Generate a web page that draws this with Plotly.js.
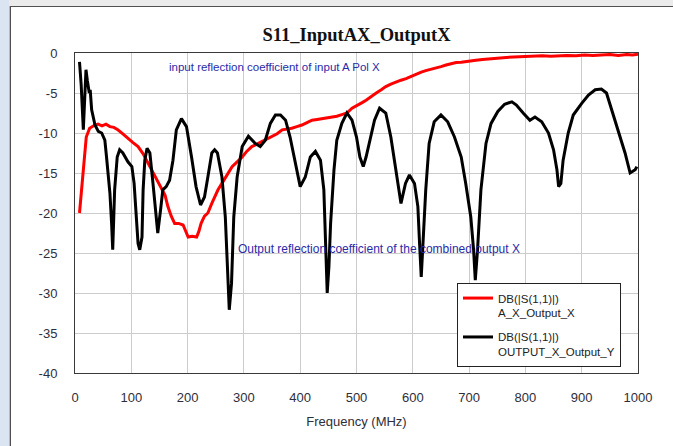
<!DOCTYPE html>
<html>
<head>
<meta charset="utf-8">
<script src="https://cdn.plot.ly/plotly-3.0.1.min.js"></script>
<style>
  html, body { margin: 0; padding: 0; background: #ffffff; }
  #wrap { position: relative; width: 673px; height: 446px; overflow: hidden; }
  .deco { position: absolute; }
  #chart { position: absolute; left: 0; top: 0; width: 673px; height: 446px; }
</style>
</head>
<body>
<div id="wrap">
  <div class="deco" style="left:0;top:0;width:673px;height:6px;background:#ebebeb;"></div>
  <div class="deco" style="left:0;top:0;width:9px;height:446px;background:#dbe5f1;"></div>
  <div class="deco" style="left:9px;top:6px;width:1px;height:440px;background:#b8b8b8;"></div>
  <div class="deco" style="left:10px;top:6px;width:663px;height:1px;background:#505050;"></div>
  <div class="deco" style="left:10px;top:6px;width:1px;height:440px;background:#505050;"></div>
  <div id="chart"></div>
</div>
<script>
// Frequency (MHz) and S11 (dB) for input A Pol X (red)
const freqA = [8,12,16,20,26,33,41,48,55,62,69,76,85,94,103,112,121,130,141,153,160,165,171,177,184,192,197,201,208,216,220,224,230,236,243,254,261,270,279,288,297,305,314,323,332,341,350,359,368,377,385,394,403,412,421,430,439,448,456,465,474,483,492,501,510,517,526,535,544,552,561,570,579,588,597,606,615,623,632,641,650,659,668,677,686,694,703,712,724,736,750,766,780,795,814,830,845,860,873,890,905,920,933,950,965,980,990,1000];
const dbA = [-20.0,-17.0,-13.4,-10.5,-9.4,-9.1,-8.9,-9.1,-8.9,-9.2,-9.3,-9.6,-10.1,-10.7,-11.2,-11.7,-12.6,-13.8,-15.25,-16.7,-17.8,-19.2,-20.4,-21.3,-21.3,-21.5,-22.3,-23.0,-22.9,-23.0,-22.3,-21.3,-20.4,-20.0,-18.8,-17.1,-16.3,-15.2,-14.2,-13.6,-13.0,-12.3,-11.7,-11.4,-11.1,-10.8,-10.5,-10.1,-9.6,-9.5,-9.4,-9.2,-9.0,-8.7,-8.4,-8.3,-8.2,-8.1,-8.0,-7.9,-7.7,-7.5,-6.9,-6.5,-6.2,-5.9,-5.4,-5.0,-4.6,-4.2,-3.9,-3.6,-3.4,-3.2,-2.9,-2.6,-2.4,-2.2,-2.05,-1.9,-1.7,-1.5,-1.35,-1.2,-1.15,-1.1,-1.0,-0.9,-0.8,-0.7,-0.65,-0.55,-0.5,-0.45,-0.4,-0.35,-0.4,-0.3,-0.3,-0.35,-0.25,-0.3,-0.25,-0.2,-0.3,-0.2,-0.25,-0.15];

// Frequency (MHz) and S11 (dB) for combined output X (black)
const freqO = [8,11,14.8,17,19.5,22,25.4,27,29.6,35.5,41.4,47.4,53,56,59,62,65,67,70.4,75,79.3,85,94,101,105,109,112,115,119,121,124,128,133,138.5,143,147,152,156,162,168,174,180,189,198,207,215,223,230,236,243,248,253,261,267,272,274,278,282,288,297,308,320,329,338,347,356,365,374,382,391,400,409,418,427,436,442,445,448,451,454,460,465,474,483,492,500,506,512,517,523,532,541,552,561,570,579,587,594,603,609,612,615,617.5,623,629,638,650,662,674,686,694,703,708,711,715,721,730,739,751,763,776,784,796,808,817,829,841,850,856,859,863,867,876,885,900,912,924,935,944,953,965,977,986,995,998];
const dbO = [-1.1,-4.0,-9.6,-5.5,-2.1,-3.5,-5.0,-4.6,-7.1,-9.0,-9.8,-10.0,-10.9,-13.0,-15.0,-17.5,-21.3,-24.6,-17.1,-13.0,-12.1,-12.5,-13.6,-14.2,-16.3,-20.5,-23.8,-24.6,-23.0,-17.1,-13.4,-11.9,-12.5,-16.3,-19.6,-22.5,-19.6,-17.1,-16.7,-15.9,-13.4,-9.6,-8.2,-9.2,-13.0,-16.7,-19.0,-18.0,-15.5,-12.5,-12.1,-12.5,-15.5,-20.5,-28.8,-32.1,-28.8,-20.5,-15.5,-11.7,-10.4,-11.3,-11.7,-10.9,-8.8,-7.75,-7.75,-8.4,-10.5,-13.8,-16.7,-15.5,-13.0,-12.3,-13.4,-17.1,-22.5,-30.0,-26.7,-21.3,-14.6,-10.9,-8.8,-7.5,-8.4,-10.5,-13.0,-14.2,-13.0,-11.3,-8.4,-6.9,-7.5,-10.5,-14.6,-18.8,-16.3,-15.25,-16.3,-19.2,-23.8,-28.0,-24.6,-17.1,-11.3,-8.6,-7.75,-8.6,-10.5,-13.0,-16.3,-20.5,-24.6,-28.4,-24.6,-17.1,-11.3,-8.8,-7.3,-6.4,-6.1,-6.5,-7.5,-8.4,-8.0,-8.6,-10.0,-12.1,-14.6,-16.7,-16.3,-13.4,-10.0,-7.75,-6.3,-5.25,-4.6,-4.5,-5.0,-7.1,-9.6,-12.5,-15.0,-14.6,-14.2];

const xTicks = [0,100,200,300,400,500,600,700,800,900,1000];
const yTicks = [0,-5,-10,-15,-20,-25,-30,-35,-40];
const chartTitle = 'S11_InputAX_OutputX';
const xTitle = 'Frequency (MHz)';
const nameA = 'DB(|S(1,1)|)<br>A_X_Output_X';
const nameO = 'DB(|S(1,1)|)<br>OUTPUT_X_Output_Y';
const noteA = 'input reflection coefficient of input A Pol X';
const noteO = 'Output reflection coefficient of the combined output X';

const traces = [
  {x: freqA, y: dbA, type: 'scatter', mode: 'lines', name: nameA, legendgroup: 'a',
   line: {color: '#ff0000', width: 3}},
  {x: freqO, y: dbO, type: 'scatter', mode: 'lines', name: nameO, legendgroup: 'b',
   line: {color: '#000000', width: 3}}
];

const tickFont = {family: 'Liberation Sans, Arial, sans-serif', size: 13, color: '#2e2e3a'};

const layout = {
  width: 673, height: 446,
  margin: {l: 75, r: 35, t: 53, b: 73},
  paper_bgcolor: 'rgba(0,0,0,0)',
  plot_bgcolor: '#ffffff',
  title: {text: '<b>' + chartTitle + '</b>', x: 0.5, xref: 'paper', y: 0.922, yanchor: 'middle',
          font: {family: 'Liberation Serif, Times New Roman, serif', size: 18.5, color: '#111111'}},
  xaxis: {range: [0, 1000], tickvals: xTicks, ticktext: xTicks.map(String),
          showgrid: true, gridcolor: '#cccccc', gridwidth: 1, zeroline: false,
          showline: true, mirror: true, linecolor: '#3a3a3a', linewidth: 1,
          ticks: '', ticklabelstandoff: 12, tickfont: tickFont,
          title: {text: xTitle, font: {family: 'Liberation Sans, Arial, sans-serif', size: 13, color: '#2e2e3a'}, standoff: 13}},
  yaxis: {range: [-40, 0], tickvals: yTicks, ticktext: yTicks.map(String),
          showgrid: true, gridcolor: '#cccccc', gridwidth: 1, zeroline: false,
          showline: true, mirror: true, linecolor: '#3a3a3a', linewidth: 1,
          ticks: '', ticklabelstandoff: 14, tickfont: tickFont},
  showlegend: true,
  legend: {x: 0.6785, y: 0.281, xanchor: 'left', yanchor: 'top',
           bgcolor: '#ffffff', bordercolor: '#222222', borderwidth: 1,
           valign: 'top', tracegroupgap: 6,
           font: {family: 'Liberation Sans, Arial, sans-serif', size: 11.5, color: '#222222'}},
  shapes: [
    {type: 'rect', xref: 'paper', yref: 'paper', layer: 'above',
     x0: 0.6785 + 3/563, x1: (618-75)/563, y0: (373-366)/320, y1: (373-286)/320,
     fillcolor: '#8a8a8a', line: {width: 0}}
  ],
  annotations: [
    {x: 163, y: -1.75, xref: 'x', yref: 'y', text: noteA, showarrow: false, xanchor: 'left', yanchor: 'middle',
     font: {family: 'Liberation Sans, Arial, sans-serif', size: 11.5, color: '#2a2aa8'}},
    {x: 286, y: -24.5, xref: 'x', yref: 'y', text: noteO, showarrow: false, xanchor: 'left', yanchor: 'middle',
     font: {family: 'Liberation Sans, Arial, sans-serif', size: 12, color: '#2a2aa8'}}
  ]
};

Plotly.newPlot('chart', traces, layout, {displayModeBar: false, responsive: false});
</script>
</body>
</html>
